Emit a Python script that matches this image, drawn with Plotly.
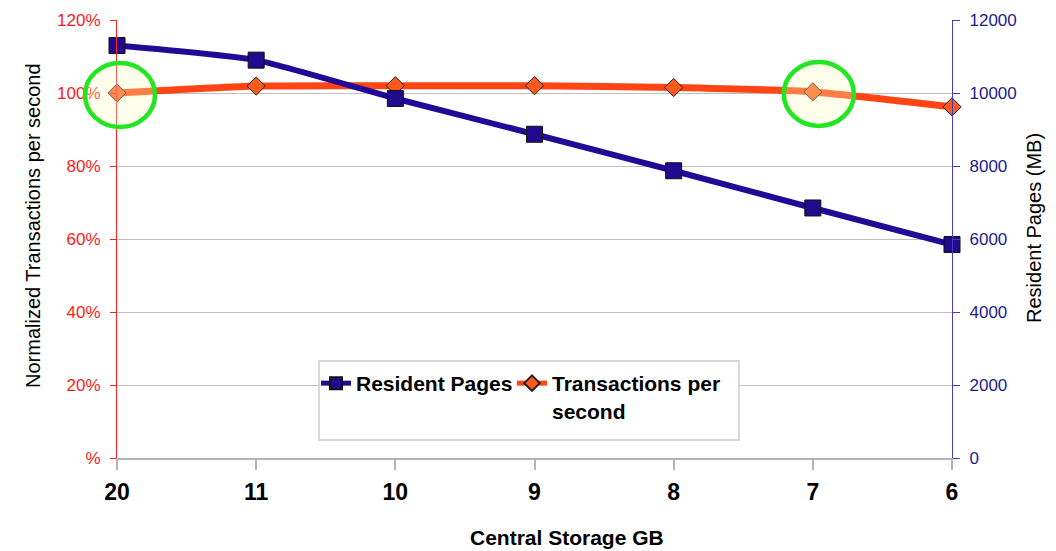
import plotly.graph_objects as go

# Central storage sizes (GB) along the x axis
storage_gb = ["20", "11", "10", "9", "8", "7", "6"]
# Resident pages in MB (right axis)
resident_pages = [11300, 10900, 9850, 8870, 7870, 6850, 5850]
# Normalized transactions per second in % (left axis)
transactions_pct = [100.0, 101.9, 102.0, 102.0, 101.5, 100.3, 96.2]

left_ticks = [0, 20, 40, 60, 80, 100, 120]
left_ticktext = ["%", "20%", "40%", "60%", "80%", "100%", "120%"]
right_ticks = [0, 2000, 4000, 6000, 8000, 10000, 12000]
right_ticktext = [str(v) for v in right_ticks]

# Points highlighted with a circle: (category index, percent value, x offset px)
highlights = [(0, 100.0, 3), (5, 100.3, 6)]

FONT = "Arial, Liberation Sans, sans-serif"
BLUE = "#230A96"
ORANGE = "#FF4514"

# Plot area in pixels
L, R, T, B = 117, 104, 20, 93
W, H = 1056, 551
PW, PH = W - L - R, H - T - B


def px_x(px):
    return (px - L) / PW


def px_y(py):
    return (H - B - py) / PH


fig = go.Figure()

fig.add_trace(go.Scatter(
    x=storage_gb, y=resident_pages, name="Resident Pages", yaxis="y2",
    mode="lines+markers", cliponaxis=False, legend="legend",
    line=dict(color=BLUE, width=6, shape="spline", smoothing=0.5),
    marker=dict(symbol="square", size=16, color="#220A8E",
                line=dict(color="#111111", width=1)),
))
fig.add_trace(go.Scatter(
    x=storage_gb, y=transactions_pct, name="Transactions per<br>second", yaxis="y",
    mode="lines+markers", cliponaxis=False, legend="legend2",
    line=dict(color=ORANGE, width=7, shape="spline", smoothing=0.5),
    marker=dict(symbol="diamond", size=14, color="#FF5A1E",
                line=dict(color="#222222", width=1)),
))

n_cat = len(storage_gb) - 1
shapes = []
for idx, val, dx in highlights:
    shapes.append(dict(
        type="circle", xref="paper", yref="paper", layer="above",
        xsizemode="pixel", ysizemode="pixel",
        xanchor=idx / n_cat, yanchor=val / 120,
        x0=dx - 35, x1=dx + 35, y0=-34, y1=30,
        line=dict(color="#22E622", width=4.5),
        fillcolor="rgba(255,255,190,0.3)",
    ))
# Legend frame
shapes.append(dict(
    type="rect", xref="paper", yref="paper", layer="above",
    x0=px_x(319), x1=px_x(739), y0=px_y(440), y1=px_y(361),
    line=dict(color="#CCCCCC", width=1.5), fillcolor="white",
))

legend_font = dict(family=FONT, size=21, color="black", weight=700)
legend_common = dict(
    orientation="h", xanchor="left", yanchor="top", valign="top",
    bgcolor="rgba(0,0,0,0)", borderwidth=0, font=legend_font,
    itemsizing="constant", itemwidth=30,
)

annotations = [
    dict(text="Normalized Transactions per second", textangle=-90,
         xref="paper", yref="paper", x=px_x(33), y=px_y(226),
         xanchor="center", yanchor="middle", showarrow=False,
         font=dict(family=FONT, size=20, color="black")),
    dict(text="Resident Pages (MB)", textangle=-90,
         xref="paper", yref="paper", x=px_x(1034), y=px_y(228),
         xanchor="center", yanchor="middle", showarrow=False,
         font=dict(family=FONT, size=20, color="black")),
    dict(text="Central Storage GB",
         xref="paper", yref="paper", x=px_x(567), y=px_y(537),
         xanchor="center", yanchor="middle", showarrow=False,
         font=dict(family=FONT, size=21, color="black", weight=700)),
]

fig.update_layout(
    width=W, height=H,
    margin=dict(l=L, r=R, t=T, b=B, autoexpand=False),
    paper_bgcolor="white", plot_bgcolor="white",
    font=dict(family=FONT, color="black"),
    shapes=shapes,
    annotations=annotations,
    showlegend=True,
    legend=dict(x=px_x(316), y=px_y(363), **legend_common),
    legend2=dict(x=px_x(512), y=px_y(363), **legend_common),
    xaxis=dict(
        type="category", categoryorder="array", categoryarray=storage_gb,
        range=[0, 6], showgrid=False, zeroline=False, automargin=False,
        showline=True, linecolor="#B4B4B4", linewidth=1.5,
        ticks="outside", ticklen=10, tickcolor="#B4B4B4", tickwidth=1.5,
        tickfont=dict(family=FONT, size=23, color="black", weight=700),
        ticklabelstandoff=3,
    ),
    yaxis=dict(
        range=[0, 120], tickvals=left_ticks, ticktext=left_ticktext,
        showgrid=True, gridcolor="#BFBFBF", gridwidth=1.2, zeroline=False,
        automargin=False,
        showline=True, linecolor="#FF2020", linewidth=1.2,
        ticks="outside", ticklen=6, tickcolor="#FF2020",
        tickfont=dict(family=FONT, size=17, color="#FF1A1A"),
        ticklabelstandoff=6,
    ),
    yaxis2=dict(
        overlaying="y", side="right", range=[0, 12000],
        tickvals=right_ticks, ticktext=right_ticktext,
        showgrid=False, zeroline=False, automargin=False,
        showline=True, linecolor="#4A3AB8", linewidth=1.2,
        ticks="outside", ticklen=7, tickcolor="#4A3AB8",
        tickfont=dict(family=FONT, size=17, color="#1B1B8C"),
        ticklabelstandoff=6,
    ),
)

fig.write_html("out.html")
